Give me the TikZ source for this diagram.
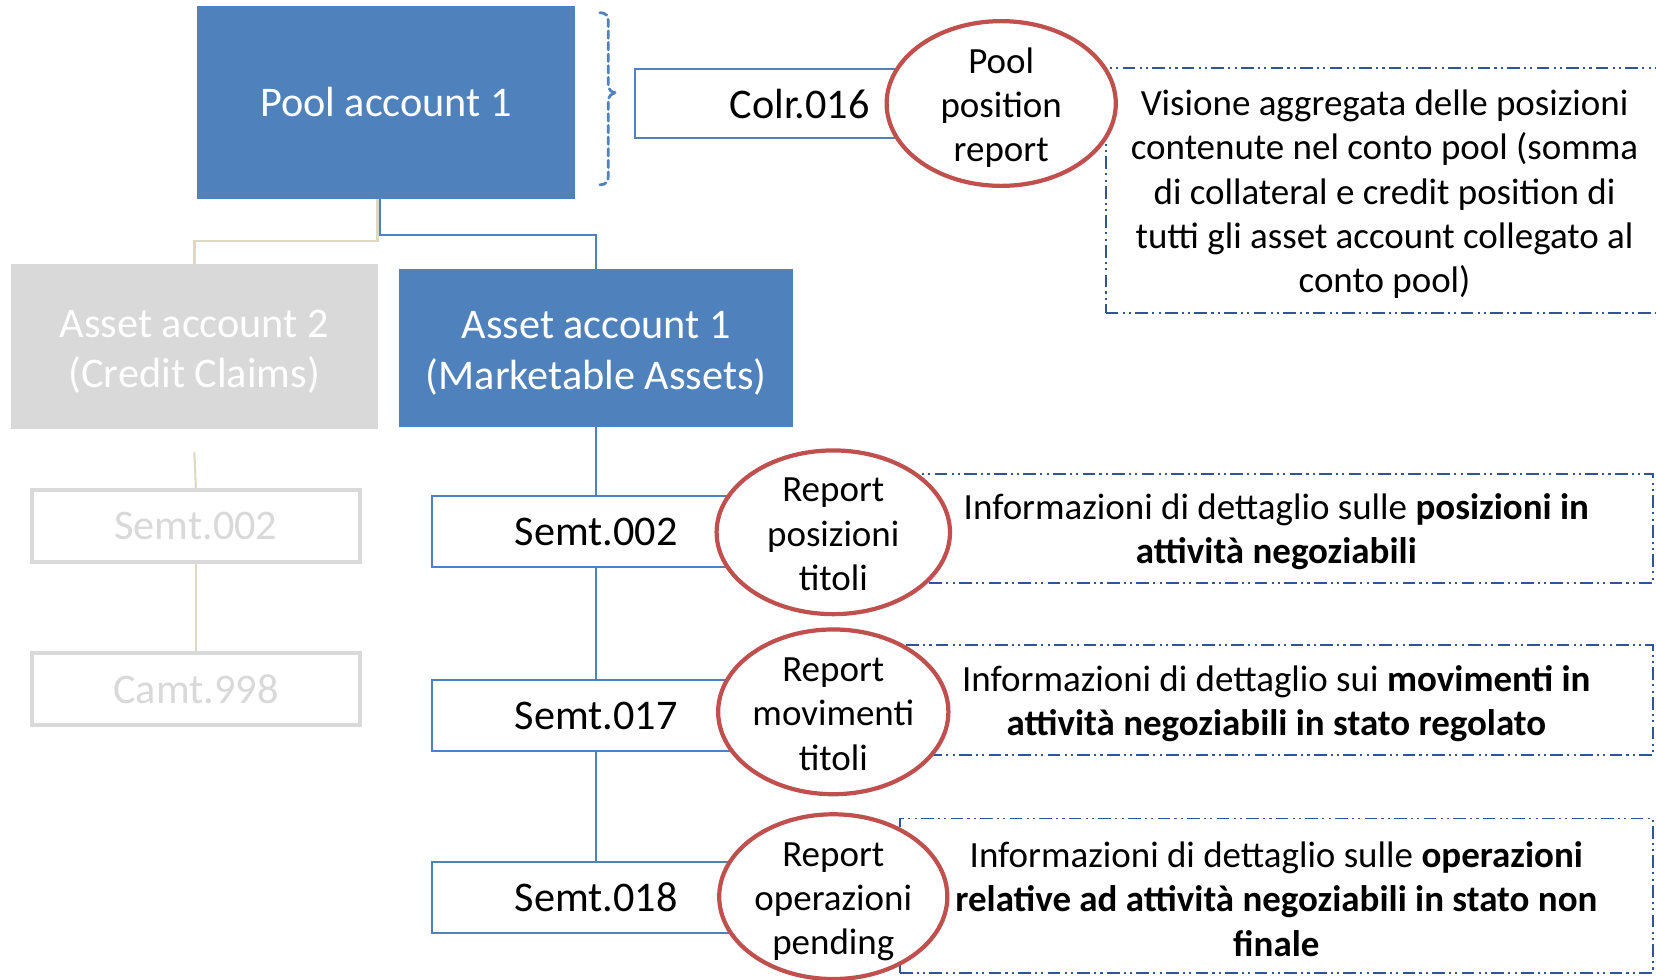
\documentclass[tikz,border=0pt]{standalone}
\usepackage{fontspec}
\setmainfont{Carlito}
\usetikzlibrary{shapes.geometric}
\definecolor{accblue}{HTML}{4F81BD}
\definecolor{repred}{HTML}{C0504D}
\definecolor{lgray}{HTML}{D9D9D9}
\definecolor{beige}{HTML}{DDD9C3}
\definecolor{dblue}{HTML}{2F5597}
\newcommand{\topstrut}[1]{\rule{0pt}{#1}}
\tikzset{
  acc/.style={fill=accblue, text=white, inner sep=0, font=\fontsize{40}{48}\selectfont, align=center},
  accgray/.style={fill=lgray, text=white, inner sep=0, font=\fontsize{40}{48}\selectfont, align=center},
  msgbox/.style={draw=accblue, line width=2pt, fill=white, inner sep=0, minimum width=311, minimum height=67, font=\fontsize{40}{48}\selectfont},
  msggray/.style={draw=lgray, line width=4pt, fill=white, text=lgray, inner sep=0, minimum width=311, minimum height=68, font=\fontsize{40}{48}\selectfont},
  repell/.style={ellipse, draw=repred, line width=4pt, fill=white, inner xsep=0pt, inner ysep=-30pt, align=center, font=\fontsize{35}{42}\selectfont},
  descbox/.style={draw=dblue, line width=1.8pt, dash pattern=on 12pt off 4pt on 2pt off 4pt on 2pt off 4pt, inner sep=0, align=center, font=\fontsize{35}{42}\selectfont},
  bluelink/.style={draw=accblue, line width=2pt},
  beigelink/.style={draw=beige, line width=2.5pt},
}
\begin{document}
\begin{tikzpicture}[x=1pt,y=-1pt]
\useasboundingbox (0,0) rectangle (1568,927);
\clip (0,0) rectangle (1568,927);
% top level
\node[acc, minimum width=357, minimum height=182] (pool) at (365.5,97) {Pool account 1};
% brace
\draw[accblue, line width=2.6pt, dash pattern=on 7pt off 4pt, line cap=round]
  (568,12) .. controls (574,12) and (576,15) .. (576,22) -- (576,80)
  .. controls (576,85) and (579,88) .. (584,88)
  .. controls (579,88) and (576,91) .. (576,96) -- (576,165)
  .. controls (576,172) and (574,175) .. (568,175);
% accounts
\node[accgray, minimum width=348, minimum height=156] (asset2) at (184,328) {\topstrut{0.9em}Asset account 2\\(Credit Claims)};
\node[acc, minimum width=373, minimum height=149] (asset1) at (564.5,329.5) {\topstrut{0.9em}Asset account 1\\(Marketable Assets)};
\draw[beigelink] ([xshift=-8pt]pool.south) -- ++(0,40) -| (asset2.north);
\draw[bluelink] ([xshift=-6pt]pool.south) -- ++(0,34) -| (asset1.north);
% gray chain
\node[msggray] (gsemt) at (185.5,498) {Semt.002};
\node[msggray] (gcamt) at (185.5,652.5) {Camt.998};
\draw[beigelink, line width=2pt] ([yshift=-22pt]asset2.south) -- (gsemt.north);
\draw[beigelink, line width=2pt] (gsemt.south) -- (gcamt.north);
% blue chain
\node[msgbox, minimum width=312, minimum height=66] (colr) at (757,98) {Colr.016};
\node[msgbox] (semtA) at (564.5,503.5) {Semt.002};
\node[msgbox] (semtB) at (564.5,677.5) {Semt.017};
\node[msgbox] (semtC) at (564.5,849.5) {Semt.018};
\draw[bluelink] (asset1.south) -- (semtA.north);
\draw[bluelink] (semtA.south) -- (semtB.north);
\draw[bluelink] (semtB.south) -- (semtC.north);
% description boxes
\node[descbox, minimum width=528, minimum height=232] (descP) at (1311,180) {\topstrut{0.92em}Visione aggregata delle posizioni\\contenute nel conto pool (somma\\di collateral e credit position di\\tutti gli asset account collegato al\\conto pool)};
\node[descbox, minimum width=713, minimum height=103] (descA) at (1208.5,500.5) {\topstrut{0.88em}Informazioni di dettaglio sulle \textbf{posizioni in}\\\textbf{attività negoziabili}};
\node[descbox, minimum width=713, minimum height=104] (descB) at (1208.5,663) {\topstrut{0.88em}Informazioni di dettaglio sui \textbf{movimenti in}\\\textbf{attività negoziabili in stato regolato}};
\node[descbox, minimum width=713, minimum height=146] (descC) at (1208.5,848) {\topstrut{0.88em}Informazioni di dettaglio sulle \textbf{operazioni}\\\textbf{relative ad attività negoziabili in stato non}\\\textbf{finale}};
% report ellipses
\node[repell, minimum width=217, minimum height=156] (repP) at (948,98) {\topstrut{0.92em}Pool\\position\\report};
\node[repell, minimum width=221, minimum height=155] (repA) at (789,504) {\topstrut{0.76em}Report\\posizioni\\titoli};
\node[repell, minimum width=218, minimum height=156] (repB) at (789,674) {\topstrut{0.76em}Report\\movimenti\\titoli};
\node[repell, minimum width=216, minimum height=156] (repC) at (789,849) {\topstrut{0.92em}Report\\operazioni\\pending};
\end{tikzpicture}
\end{document}
